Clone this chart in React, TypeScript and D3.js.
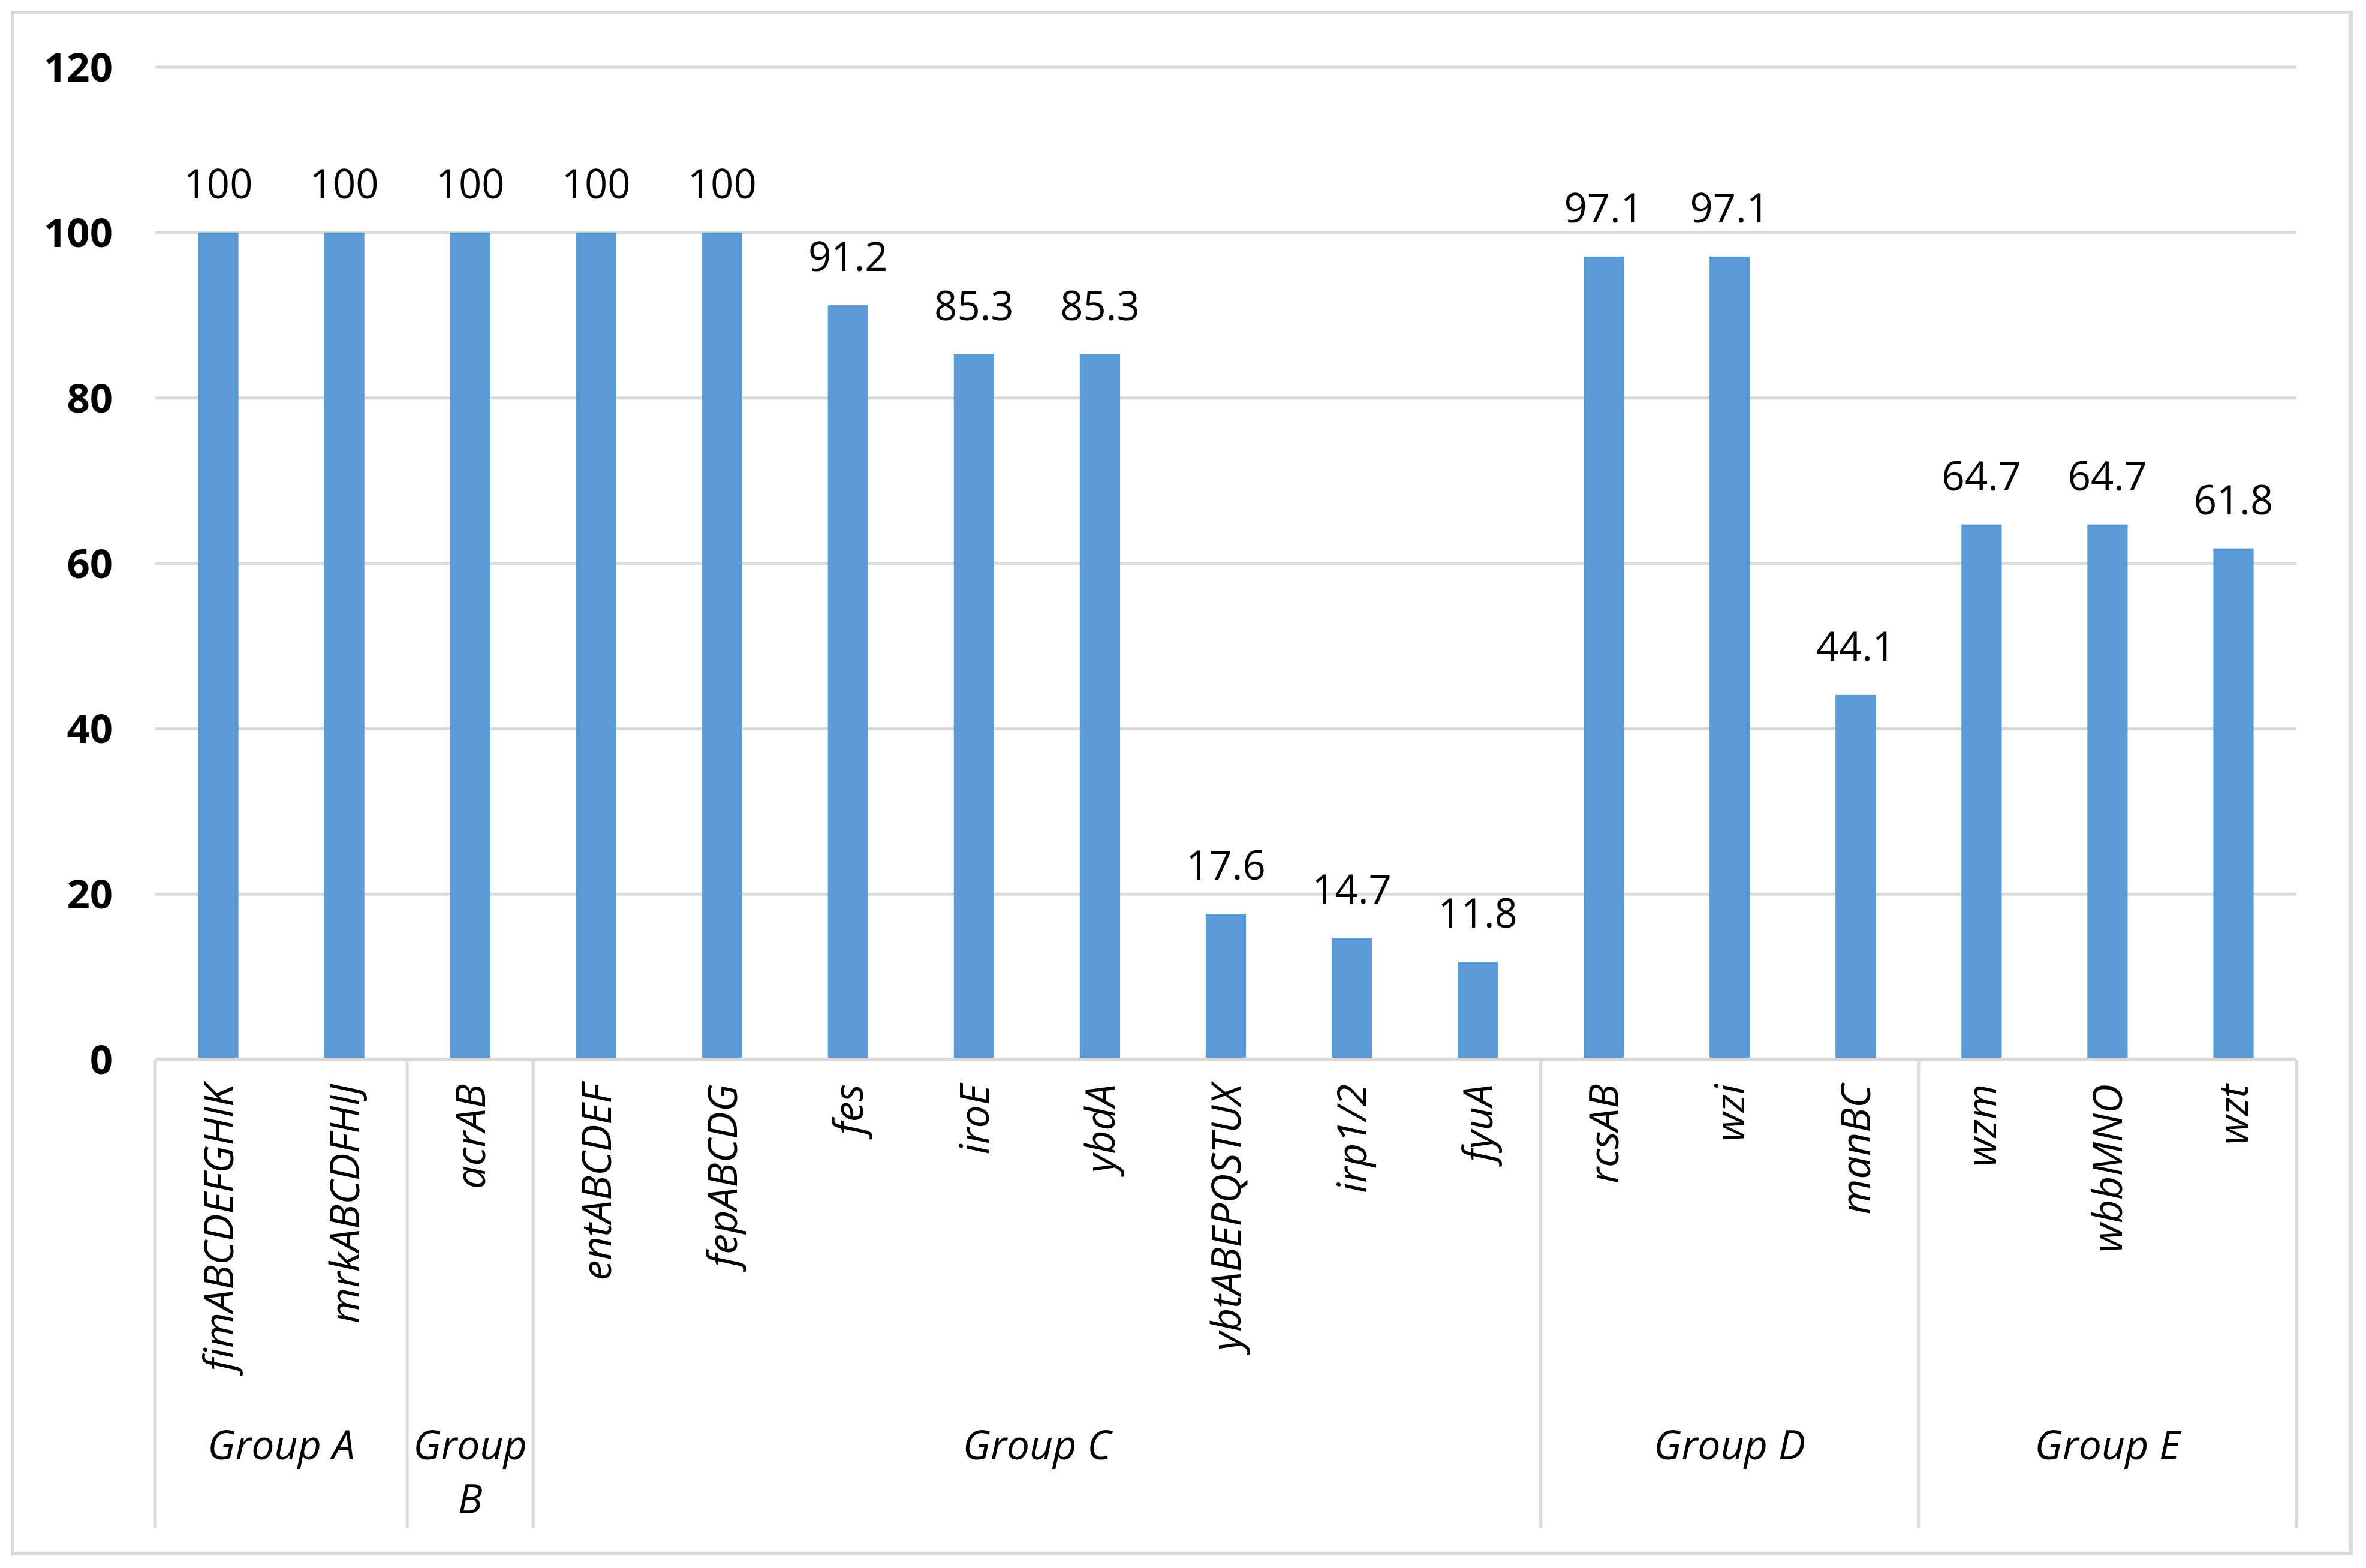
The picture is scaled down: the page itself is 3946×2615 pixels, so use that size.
import React from "react";
import * as d3 from "d3";

const categories = [
  "fimABCDEFGHIK", "mrkABCDFHIJ", "acrAB", "entABCDEF", "fepABCDG", "fes", "iroE", "ybdA",
  "ybtABEPQSTUX", "irp1/2", "fyuA", "rcsAB", "wzi", "manBC", "wzm", "wbbMNO", "wzt",
];
const values = [100, 100, 100, 100, 100, 91.2, 85.3, 85.3, 17.6, 14.7, 11.8, 97.1, 97.1, 44.1, 64.7, 64.7, 61.8];
const groupNames = ["Group A", "Group B", "Group C", "Group D", "Group E"];
const groupSizes = [2, 1, 8, 3, 3];
const yTicks = [0, 20, 40, 60, 80, 100, 120];

const W = 3946;
const H = 2615;
const FONT = "'Open Sans', 'Noto Sans', sans-serif";
const FS = 67;
const GRID = "#d9d9d9";
const BAR = "#5b9bd5";

export default function App() {
  React.useEffect(() => {
    document.body.style.margin = "0";
  }, []);

  const x = d3.scaleBand<string>().domain(categories).range([259, 3830]).paddingInner(0.68).paddingOuter(0.34);
  const y = d3.scaleLinear().domain([0, 120]).range([1767, 112]);
  const step = x.step();
  const x0 = x.range()[0];
  const axisY = y(0);
  const divBottom = 2549;

  const bounds: number[] = [0];
  groupSizes.forEach((s) => bounds.push(bounds[bounds.length - 1] + s));

  return (
    <svg width={W} height={H} style={{ position: "absolute", left: 0, top: 0, display: "block", background: "#fff" }}>
      <rect x={0} y={0} width={W} height={H} fill="#fff" />
      <rect x={21} y={21} width={3900} height={2570} fill="none" stroke={GRID} strokeWidth={6} />
      {yTicks.map((t) => (
        <g key={t}>
          {t > 0 && (
            <line x1={x0} x2={x.range()[1]} y1={y(t)} y2={y(t)} stroke={GRID} strokeWidth={5} />
          )}
          <text x={188} y={y(t)} dy="0.36em" textAnchor="end" fontFamily={FONT} fontWeight="bold" fontSize={FS}>
            {t}
          </text>
        </g>
      ))}
      {categories.map((c, i) => (
        <g key={c}>
          <rect x={x(c)} y={y(values[i])} width={x.bandwidth()} height={axisY - y(values[i])} fill={BAR} />
          <text
            x={(x(c) as number) + x.bandwidth() / 2}
            y={y(values[i]) - 57}
            textAnchor="middle"
            fontFamily={FONT}
            fontSize={FS}
          >
            {values[i]}
          </text>
          <text
            transform={`translate(${(x(c) as number) + x.bandwidth() / 2},1808) rotate(-90)`}
            dy="0.36em"
            textAnchor="end"
            fontFamily={FONT}
            fontStyle="italic"
            fontSize={FS + 1}
          >
            {c}
          </text>
        </g>
      ))}
      <line x1={x0} x2={x.range()[1]} y1={axisY} y2={axisY} stroke={GRID} strokeWidth={6} />
      {bounds.map((b, i) => (
        <line key={i} x1={x0 + b * step} x2={x0 + b * step} y1={axisY} y2={divBottom} stroke={GRID} strokeWidth={5} />
      ))}
      {groupNames.map((g, i) => {
        const cx = x0 + ((bounds[i] + bounds[i + 1]) / 2) * step;
        const span = groupSizes[i] * step;
        const lines = g.length * FS * 0.55 > span ? g.split(" ") : [g];
        return (
          <text key={g} x={cx} y={2434} textAnchor="middle" fontFamily={FONT} fontStyle="italic" fontSize={FS + 1}>
            {lines.map((l, j) => (
              <tspan key={j} x={cx} dy={j === 0 ? 0 : 90}>
                {l}
              </tspan>
            ))}
          </text>
        );
      })}
    </svg>
  );
}
